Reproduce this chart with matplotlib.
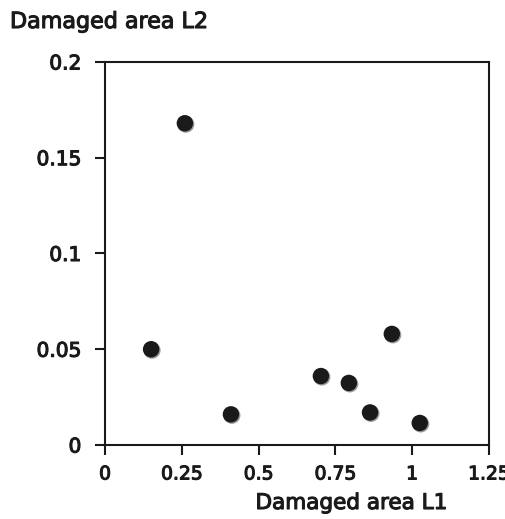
import matplotlib
matplotlib.use("Agg")
import matplotlib.pyplot as plt
import matplotlib.patheffects as pe
import matplotlib.transforms as mtrans

x_l1 = [0.26, 0.15, 0.41, 0.703, 0.794, 0.863, 0.934, 1.025]
y_l2 = [0.168, 0.050, 0.016, 0.036, 0.0324, 0.017, 0.058, 0.0115]
xticks = [0, 0.25, 0.5, 0.75, 1, 1.25]
xticklabels = ["0", "0.25", "0.5", "0.75", "1", "1.25"]
yticks = [0, 0.05, 0.1, 0.15, 0.2]
yticklabels = ["0", "0.05", "0.1", "0.15", "0.2"]

plt.rcParams['font.family'] = ['DejaVu Sans']
stroke = [pe.withStroke(linewidth=0.8, foreground='#1a1a1a')]

fig = plt.figure(figsize=(5.05, 5.19), dpi=100)
ax = fig.add_axes([0.208, 0.1426, 0.760, 0.738])
ax.set_xlim(0, 1.25)
ax.set_ylim(0, 0.2)

# shadow then marker
ax.scatter(x_l1, y_l2, s=150, color='#9a9a9a', edgecolors='none', zorder=2,
           transform=ax.transData + mtrans.ScaledTranslation(1/100, -1/100, fig.dpi_scale_trans))
ax.scatter(x_l1, y_l2, s=140, color='#1a1a1a', edgecolors='none', zorder=3)

ax.set_xticks(xticks)
ax.set_xticklabels(xticklabels)
ax.set_yticks(yticks)
ax.set_yticklabels(yticklabels)
for s in ax.spines.values():
    s.set_linewidth(1.5)
    s.set_color('#1a1a1a')
ax.tick_params(axis='x', direction='out', length=7, width=1.5, labelsize=13.5, pad=7,
               top=False, colors='#1a1a1a')
ax.tick_params(axis='y', direction='out', length=7, width=1.5, labelsize=14.5, pad=10,
               right=False, colors='#1a1a1a')
for lab in ax.get_xticklabels() + ax.get_yticklabels():
    lab.set_path_effects(stroke)

fig.text(10/505, 1 - 22/519, "Damaged area L2", fontsize=16, color='#1a1a1a',
         ha='left', va='center', path_effects=stroke)
fig.text(447/505, 1 - 503/519, "Damaged area L1", fontsize=15.5, color='#1a1a1a',
         ha='right', va='center', path_effects=stroke)

fig.savefig("out.png", dpi=100)
